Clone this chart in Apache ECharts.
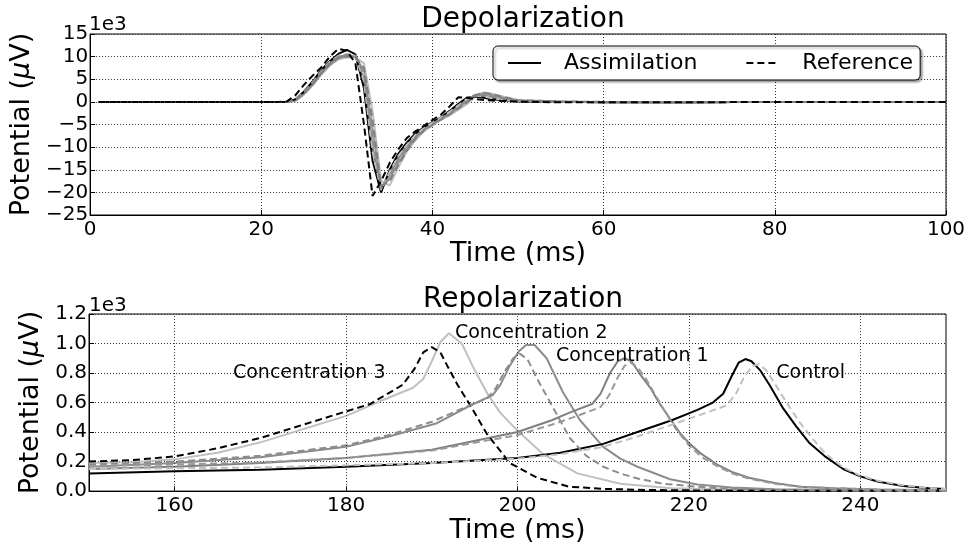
<!DOCTYPE html>
<html>
<head>
<meta charset="utf-8">
<script src="https://cdn.jsdelivr.net/npm/echarts@6/dist/echarts.min.js"></script>
<style>
html, body { margin: 0; padding: 0; background: #fff; }
#main { width: 972px; height: 545px; }
</style>
</head>
<body>
<div id="main"></div>
<script>
// depolarization (values in 1e3 uV)
var depTime = [1, 22, 23, 24, 25, 26, 27, 28, 29, 30, 31, 32, 33, 34, 35, 36, 37, 38, 39, 40, 41, 42, 43, 44, 45, 46, 47, 48, 50, 55, 60, 70, 80, 90, 100];
var depCtrl  = [0, 0, 0, 0.6, 2.3, 4.5, 7, 9, 10.6, 11.5, 10.5, 3, -13, -20, -15, -11.5, -9, -7, -5.6, -4.5, -3.4, -2, -0.5, 0.9, 1.2, 0.9, 0.6, 0.4, 0.1, 0, -0.1, -0.1, 0, 0, 0];
var depConc1 = [0, 0, 0, 0.4, 2, 4, 6.5, 8.5, 10, 10.3, 10, 5, -10, -19.6, -16, -12.5, -9.8, -7.5, -6, -4.8, -3.6, -2.4, -1, 0.3, 1.5, 1.4, 1, 0.6, 0.2, 0, -0.1, -0.1, 0, 0, 0];
var depConc2 = [0, 0, 0, 0.3, 1.8, 3.8, 6.2, 8.2, 9.6, 10, 9.9, 7, -6, -19, -17, -13.5, -10.5, -8, -6.2, -5, -3.8, -2.7, -1.4, 0, 1.6, 1.9, 1.5, 1, 0.3, 0.05, -0.05, -0.1, 0, 0, 0];
var depConc3 = [0, 0, 0, 0.2, 1.6, 3.6, 6, 8, 9.4, 9.8, 9.8, 8.5, -2, -17.5, -18.5, -14.5, -11, -8.5, -6.5, -5.2, -4, -3, -1.8, -0.5, 1.2, 2.1, 1.8, 1.3, 0.4, 0.1, 0, -0.1, 0, 0, 0];
var depRefCtrl  = [0, 0, 0, 0.5, 2.2, 4.3, 6.8, 8.8, 10.2, 10.6, 10.2, 4.5, -11, -19.5, -15.5, -12, -9.5, -7.3, -5.8, -4.6, -3.5, -2.2, -0.8, 0.6, 1.4, 1.2, 0.8, 0.5, 0.15, 0, -0.1, -0.1, 0, 0, 0];
var depRefConc1 = [0, 0, 0, 0.5, 2.2, 4.2, 6.6, 8.6, 10, 10.4, 10.2, 6, -8, -19.2, -16.5, -13, -10.2, -7.8, -6.1, -4.9, -3.7, -2.5, -1.1, 0.4, 1.6, 1.6, 1.2, 0.8, 0.25, 0.05, -0.1, -0.1, 0, 0, 0];
var depRefConc2 = [0, 0, 0, 0.3, 1.9, 3.9, 6.3, 8.3, 9.7, 10.1, 9.9, 7.5, -4, -18.5, -17.5, -14, -10.8, -8.2, -6.4, -5.1, -3.9, -2.8, -1.5, -0.2, 1.4, 2, 1.7, 1.2, 0.35, 0.1, 0, -0.1, 0, 0, 0];
var depRefConc3 = [0, 0, 0.1, 1.5, 3.8, 5.8, 7.6, 10, 11.7, 11.3, 8.5, -5, -20.8, -17.5, -13.5, -10.5, -8, -6.5, -5.3, -4, -2.8, -1, 1.0, 0.9, 0.6, 0.4, 0.3, 0.2, 0.05, -0.1, -0.1, -0.1, 0, 0, 0];

// repolarization (values in 1e3 uV)
var repCtrlT = [150, 160, 170, 180, 190, 200, 205, 210, 214, 218, 221, 222.8, 224, 225, 225.8, 226.6, 227.3, 228.3, 229.5, 231, 232.5, 234, 236, 238, 240, 242, 245, 248, 250];
var repCtrlV = [0.12, 0.135, 0.145, 0.165, 0.19, 0.225, 0.26, 0.32, 0.40, 0.48, 0.55, 0.60, 0.66, 0.78, 0.87, 0.895, 0.88, 0.82, 0.71, 0.56, 0.44, 0.33, 0.23, 0.15, 0.10, 0.065, 0.035, 0.02, 0.015];
var repRefCtrlT = [150, 160, 170, 180, 190, 200, 205, 210, 214, 218, 221, 224.4, 225.5, 226.5, 227.5, 228.2, 229, 230, 231.5, 233, 234.5, 236, 238, 240, 242, 245, 248, 250];
var repRefCtrlV = [0.15, 0.155, 0.16, 0.175, 0.19, 0.22, 0.25, 0.30, 0.37, 0.45, 0.51, 0.58, 0.66, 0.78, 0.85, 0.86, 0.82, 0.73, 0.59, 0.46, 0.35, 0.25, 0.16, 0.105, 0.07, 0.04, 0.02, 0.015];
var repConc1T = [150, 160, 170, 180, 190, 200, 204, 206, 208.7, 209.7, 210.8, 211.7, 212.5, 213.3, 214.2, 215.5, 216.5, 217.8, 219, 220.1, 221.5, 223.3, 225, 227, 230, 233, 237, 242, 250];
var repConc1V = [0.15, 0.165, 0.19, 0.225, 0.28, 0.40, 0.48, 0.53, 0.59, 0.66, 0.80, 0.88, 0.90, 0.88, 0.80, 0.70, 0.60, 0.49, 0.39, 0.32, 0.25, 0.18, 0.13, 0.09, 0.055, 0.03, 0.02, 0.01, 0.005];
var repRefConc1T = [150, 160, 170, 180, 190, 200, 204, 207, 209.7, 210.7, 211.7, 212.5, 213.2, 214, 215, 216.2, 217.3, 218.5, 220, 221.5, 223.3, 225, 227, 230, 233, 237, 242, 250];
var repRefConc1V = [0.17, 0.18, 0.195, 0.225, 0.275, 0.38, 0.45, 0.51, 0.57, 0.65, 0.77, 0.85, 0.87, 0.84, 0.76, 0.64, 0.53, 0.42, 0.31, 0.23, 0.17, 0.12, 0.085, 0.05, 0.03, 0.02, 0.01, 0.005];
var repConc2T = [150, 160, 170, 180, 185, 190.6, 194.5, 197.1, 198, 199.1, 200.2, 201, 202, 203.4, 205.3, 207.3, 210, 212, 214, 217.8, 221, 225, 230, 240, 250];
var repConc2V = [0.165, 0.19, 0.23, 0.30, 0.37, 0.46, 0.58, 0.65, 0.72, 0.85, 0.95, 0.99, 0.99, 0.90, 0.67, 0.48, 0.30, 0.22, 0.165, 0.08, 0.045, 0.025, 0.012, 0.005, 0.003];
var repRefConc2T = [150, 160, 170, 180, 185, 190, 194, 196.5, 197.5, 198.5, 199.5, 200.3, 201.2, 202.3, 204.2, 206.1, 208, 210, 212, 214, 217, 221, 225, 230, 240, 250];
var repRefConc2V = [0.18, 0.2, 0.24, 0.31, 0.38, 0.47, 0.57, 0.63, 0.70, 0.81, 0.90, 0.93, 0.89, 0.76, 0.56, 0.36, 0.24, 0.165, 0.12, 0.085, 0.05, 0.03, 0.015, 0.008, 0.004, 0.003];
var repConc3T = [150, 155, 160, 165, 170, 175, 180, 183.6, 187.8, 189, 190, 191, 192, 193.5, 195, 196.5, 198, 200, 203, 207, 212, 218, 225, 235, 250];
var repConc3V = [0.19, 0.195, 0.215, 0.26, 0.33, 0.42, 0.51, 0.60, 0.70, 0.76, 0.88, 1.01, 1.07, 1.0, 0.82, 0.66, 0.53, 0.41, 0.25, 0.12, 0.05, 0.02, 0.01, 0.005, 0.003];
var repRefConc3T = [150, 155, 160, 165, 170, 175, 180, 182.8, 186.6, 188, 189, 190, 191, 191.8, 193, 194.5, 196.4, 199.1, 202.3, 206, 210, 215, 220, 230, 250];
var repRefConc3V = [0.20, 0.21, 0.235, 0.29, 0.36, 0.45, 0.54, 0.59, 0.72, 0.83, 0.94, 0.975, 0.94, 0.85, 0.72, 0.58, 0.39, 0.19, 0.09, 0.03, 0.015, 0.008, 0.005, 0.003, 0.002];

var noteText = ['Concentration 3', 'Concentration 2', 'Concentration 1', 'Control'];
var noteT = [166.8, 192.7, 204.5, 230.2];
var noteV = [0.80, 1.07, 0.915, 0.80];

var repTicksX = [160, 180, 200, 220, 240];

var FONT = 'DejaVu Sans';

function pairs(t, v) {
    return t.map(function (x, i) { return [x, v[i]]; });
}

function line(name, idx, t, v, color, dashed) {
    return {
        name: name,
        type: 'line',
        xAxisIndex: idx,
        yAxisIndex: idx,
        data: pairs(t, v),
        symbol: 'none',
        silent: true,
        animation: false,
        z: dashed ? 4 : 3,
        lineStyle: { color: color, width: 2, type: dashed ? [7, 4] : 'solid' },
        itemStyle: { color: color }
    };
}

var gridLine = { show: true, lineStyle: { color: '#333', width: 1, type: [1, 2] } };
var labelStyle = { fontFamily: FONT, fontSize: 20, color: '#000' };
var axisLine = { show: true, onZero: false, lineStyle: { color: '#000', width: 1 } };
var tickIn = { show: true, inside: true, length: 5, lineStyle: { color: '#000' } };
var minus = function (v) { return String(v).replace('-', '\u2212'); };
var nameStyle = { fontFamily: FONT, fontSize: 27, color: '#000', rich: { i: { fontFamily: FONT, fontSize: 27, fontStyle: 'italic' } } };

var myChart = echarts.init(document.getElementById('main'));
var series = [
    line('Assimilation conc3', 0, depTime, depConc3, '#c0c0c0', false),
    line('Assimilation conc2', 0, depTime, depConc2, '#999999', false),
    line('Assimilation conc1', 0, depTime, depConc1, '#808080', false),
    line('Reference ctrl', 0, depTime, depRefCtrl, '#c0c0c0', true),
    line('Reference conc1', 0, depTime, depRefConc1, '#8c8c8c', true),
    line('Reference conc2', 0, depTime, depRefConc2, '#808080', true),
    line('Assimilation', 0, depTime, depCtrl, '#000000', false),
    line('Reference', 0, depTime, depRefConc3, '#000000', true),

    line('rep conc3', 1, repConc3T, repConc3V, '#c0c0c0', false),
    line('rep ref conc3', 1, repRefConc3T, repRefConc3V, '#000000', true),
    line('rep conc2', 1, repConc2T, repConc2V, '#8c8c8c', false),
    line('rep ref conc2', 1, repRefConc2T, repRefConc2V, '#8c8c8c', true),
    line('rep conc1', 1, repConc1T, repConc1V, '#808080', false),
    line('rep ref conc1', 1, repRefConc1T, repRefConc1V, '#999999', true),
    line('rep ref ctrl', 1, repRefCtrlT, repRefCtrlV, '#c0c0c0', true),
    line('rep ctrl', 1, repCtrlT, repCtrlV, '#000000', false)
];

// vertical grid lines of the lower panel (ticks start at 160, not at min)
series.push({
    type: 'line', xAxisIndex: 1, yAxisIndex: 1, data: [], silent: true, animation: false,
    markLine: {
        symbol: 'none', silent: true, animation: false, label: { show: false },
        lineStyle: { color: '#333', width: 1, type: [1, 2] },
        data: repTicksX.map(function (x) { return { xAxis: x }; })
    }
});

// text notes on the lower panel
series.push({
    type: 'scatter', xAxisIndex: 1, yAxisIndex: 1, silent: true, animation: false,
    symbolSize: 0, z: 10,
    itemStyle: { opacity: 1 },
    data: noteT.map(function (t, i) { return { value: [t, noteV[i]], name: noteText[i] }; }),
    label: {
        show: true, position: 'right', distance: 0, opacity: 1,
        formatter: '{b}', fontFamily: FONT, fontSize: 19, color: '#000'
    }
});

var option = {
    backgroundColor: '#fff',
    textStyle: { fontFamily: FONT },
    title: [
        { text: 'Depolarization', left: 518, textAlign: 'center', top: 1, textStyle: { fontFamily: FONT, fontSize: 28, fontWeight: 'normal', color: '#000' } },
        { text: 'Repolarization', left: 518, textAlign: 'center', top: 281, textStyle: { fontFamily: FONT, fontSize: 28, fontWeight: 'normal', color: '#000' } }
    ],
    legend: {
        data: ['Assimilation', 'Reference'],
        left: 493, top: 46,
        padding: [6, 7, 6, 14],
        itemGap: 48, itemWidth: 33, itemHeight: 14,
        borderColor: '#000', borderWidth: 1, borderRadius: 5,
        backgroundColor: '#fff',
        shadowColor: 'rgba(0,0,0,0.35)', shadowOffsetX: 2, shadowOffsetY: 2, shadowBlur: 2,
        itemStyle: { color: 'transparent', borderColor: 'transparent', borderWidth: 0 },
        textStyle: { fontFamily: FONT, fontSize: 22, color: '#000', padding: [0, 0, 0, 18] },
        selectedMode: false
    },
    graphic: [
        { type: 'text', left: 89, top: 15, style: { text: '1e3', font: '20px "DejaVu Sans"', fill: '#000' } },
        { type: 'text', left: 89, top: 296, style: { text: '1e3', font: '20px "DejaVu Sans"', fill: '#000' } }
    ],
    grid: [
        { left: 89, top: 34, width: 857, height: 181, show: true, borderColor: '#000', borderWidth: 1, backgroundColor: 'transparent' },
        { left: 89, top: 314, width: 857, height: 181, show: true, borderColor: '#000', borderWidth: 1, backgroundColor: 'transparent' }
    ],
    xAxis: [
        {
            type: 'value', gridIndex: 0, min: 0, max: 100, interval: 20,
            name: 'Time (ms)', nameLocation: 'middle', nameGap: 22,
            nameTextStyle: nameStyle,
            axisLine: axisLine, axisTick: tickIn, splitLine: gridLine,
            axisLabel: Object.assign({ margin: 5, showMinLabel: true, showMaxLabel: true }, labelStyle)
        },
        {
            type: 'value', gridIndex: 1, min: 150, max: 250, interval: 10,
            name: 'Time (ms)', nameLocation: 'middle', nameGap: 23,
            nameTextStyle: nameStyle,
            axisLine: axisLine, splitLine: { show: false },
            axisTick: Object.assign({ customValues: repTicksX }, tickIn),
            axisLabel: Object.assign({ margin: 5, customValues: repTicksX }, labelStyle)
        }
    ],
    yAxis: [
        {
            type: 'value', gridIndex: 0, min: -25, max: 15, interval: 5,
            name: 'Potential ({i|\u03bc}V)', nameLocation: 'middle', nameGap: 53,
            nameTextStyle: nameStyle,
            axisLine: axisLine, axisTick: tickIn, splitLine: gridLine,
            axisLabel: Object.assign({ margin: 2, formatter: minus }, labelStyle)
        },
        {
            type: 'value', gridIndex: 1, min: 0, max: 1.2, interval: 0.2,
            name: 'Potential ({i|\u03bc}V)', nameLocation: 'middle', nameGap: 41,
            nameTextStyle: nameStyle,
            axisLine: axisLine, axisTick: tickIn, splitLine: gridLine,
            axisLabel: Object.assign({ margin: 2, formatter: function (v) { return v.toFixed(1); } }, labelStyle)
        }
    ],
    series: series
};

myChart.setOption(option);
</script>
</body>
</html>
